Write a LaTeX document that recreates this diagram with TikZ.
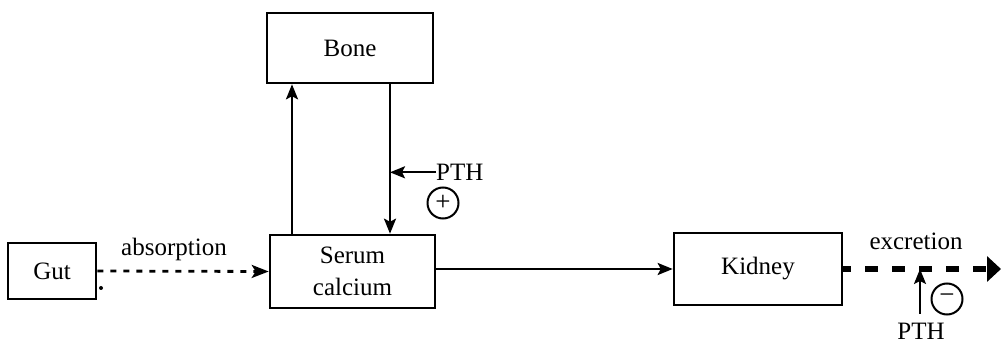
\documentclass[tikz,border=0pt]{standalone}
\usepackage{fontspec}
\setmainfont{Liberation Serif}
\usetikzlibrary{arrows.meta,calc}
\begin{document}
\begin{tikzpicture}[x=1pt,y=-1pt,
  box/.style={draw,line width=2.6pt,inner sep=0pt,align=center,font=\fontsize{25}{32}\selectfont},
  lbl/.style={inner sep=0pt,font=\fontsize{25}{30}\selectfont},
  arr/.style={line width=2.2pt,-{Stealth[length=15pt,width=12pt,inset=3pt]}},
  dotarr/.style={line width=2.8pt,dash pattern=on 6pt off 7pt,-{Stealth[length=17pt,width=13pt,inset=4pt]}},
  bigdash/.style={line width=5.5pt,dash pattern=on 13pt off 14pt,dash phase=5pt,-{Triangle[length=14pt,width=25pt]}},
  sign/.style={circle,draw,line width=2pt,minimum size=31pt,inner sep=0pt,font=\fontsize{27}{27}\selectfont}]
\useasboundingbox (0,0) rectangle (1006,344);
% boxes
\node[box,minimum width=88pt,minimum height=56pt] (gut) at (52,271) {Gut};
\node[box,minimum width=165pt,minimum height=73pt] (serum) at (352.5,271.5) {Serum\\calcium};
\node[box,minimum width=166pt,minimum height=70pt] (bone) at (350,48) {Bone};
\node[box,minimum width=168pt,minimum height=72pt] (kidney) at (758,269) {Kidney};
% gut -> serum
\node[circle,fill,inner sep=0pt,minimum size=4pt] (dot) at (101,288) {};
\node[lbl,anchor=base] (abs) at (174,256) {absorption};
\draw[dotarr] (gut.east) -- (serum.west);
% serum <-> bone
\coordinate (bu) at ([xshift=-60.5pt]serum.north);
\draw[arr] (bu) -- (bu |- bone.south);
\coordinate (bd) at ([xshift=40pt]bone.south);
\draw[arr] (bd) -- (bd |- serum.north);
\node[lbl,anchor=base west] (pthA) at (436,180.5) {PTH};
\draw[arr] (pthA.west) -- (pthA.west -| bd);
\node[sign] (plus) at (443,203) {+};
% serum -> kidney
\draw[arr] (serum.east |- kidney.west) -- (kidney.west);
% kidney excretion
\coordinate (end) at (1001,269);
\draw[bigdash] (kidney.east) -- (end);
\node[lbl,anchor=base] (exc) at (916,250) {excretion};
\node[lbl,anchor=base] (pthB) at (921,339) {PTH};
\coordinate (pu) at (920,314);
\draw[arr] (pu) -- (pu |- end);
\node[sign] (minus) at (947,299) {−};
\end{tikzpicture}
\end{document}
